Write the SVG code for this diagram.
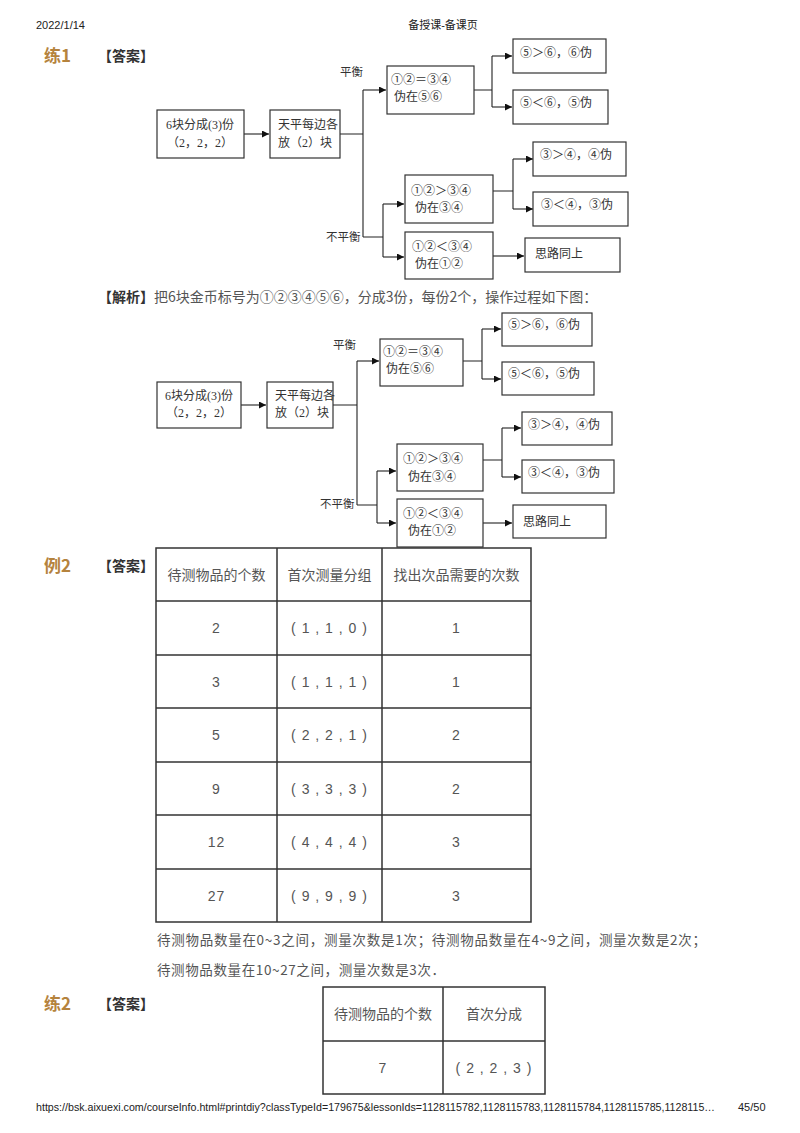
<svg xmlns="http://www.w3.org/2000/svg" width="800" height="1133" viewBox="0 0 800 1133">
<style>
.hdr{font-family:"Liberation Sans","Noto Sans CJK SC",sans-serif;font-size:11px;fill:#222}
.lab{font-family:"Noto Sans CJK SC",sans-serif;font-weight:bold;font-size:17px;fill:#b5833d}
.ans{font-family:"Noto Sans CJK SC",sans-serif;font-weight:bold;font-size:14px;fill:#333}
.body{font-family:"Noto Sans CJK SC",sans-serif;font-size:14px;fill:#555}
.box{fill:#fff;stroke:#333;stroke-width:1.2}
.dt{font-family:"Liberation Serif","Noto Sans CJK SC",serif;font-size:12px;fill:#333}
.lbl{font-family:"Liberation Serif","Noto Sans CJK SC",serif;font-size:11.5px;fill:#333}
.conn{fill:none;stroke:#222;stroke-width:1.1}
.arr{fill:none;stroke:#222;stroke-width:1.1;marker-end:url(#ah)}
.grid{fill:none;stroke:#333;stroke-width:1.5}
.td{font-family:"Noto Sans CJK SC",sans-serif;font-size:14px;fill:#555;text-anchor:middle}
.tn{font-family:"Liberation Sans",sans-serif;font-size:14px;fill:#555;text-anchor:middle;letter-spacing:1px}
</style>
<defs>
<marker id="ah" markerWidth="8" markerHeight="8" refX="7" refY="3.5" orient="auto" markerUnits="userSpaceOnUse"><path d="M0,0 L7,3.5 L0,7 z" fill="#111"/></marker>
</defs>
<rect width="800" height="1133" fill="#fff"/>

<g id="header">
<text class="hdr" x="36" y="29">2022/1/14</text>
<text class="hdr" x="443" y="29" text-anchor="middle">备授课-备课页</text>
</g>

<g id="labels">
<text class="lab" x="44" y="62">练1</text>
<text class="ans" x="98" y="61">【答案】</text>
<text class="lab" x="44" y="572">例2</text>
<text class="ans" x="98" y="571">【答案】</text>
<text class="lab" x="44" y="1010">练2</text>
<text class="ans" x="98" y="1009">【答案】</text>
</g>

<!-- Diagram 1 -->
<g id="d1-connectors">
<path class="arr" d="M244,134 H269"/>
<path class="conn" d="M340,134 H363 M363,90 V237 M363,237 H383 M383,204 V257"/>
<path class="arr" d="M363,90 H386"/>
<path class="arr" d="M383,204 H404"/>
<path class="arr" d="M383,257 H404"/>
<path class="conn" d="M474,90 H492 M492,56 V107"/>
<path class="arr" d="M492,56 H512"/>
<path class="arr" d="M492,107 H512"/>
<path class="conn" d="M493,191 H513 M513,159 V209"/>
<path class="arr" d="M513,159 H533"/>
<path class="arr" d="M513,209 H533"/>
<path class="arr" d="M493,256 H524"/>
<text class="lbl" x="340" y="76">平衡</text>
<text class="lbl" x="326" y="241">不平衡</text>
</g>
<g id="d1-A"><rect class="box" x="157" y="110" width="87" height="48"/><text class="dt" x="200" y="129" text-anchor="middle">6块分成(3)份</text><text class="dt" x="200" y="147" text-anchor="middle">（2，2，2）</text></g>
<g id="d1-B"><rect class="box" x="270" y="110" width="70" height="48"/><text class="dt" x="278" y="129">天平每边各</text><text class="dt" x="278" y="147">放（2）块</text></g>
<g id="d1-C"><rect class="box" x="387" y="66" width="87" height="48"/><text class="dt" x="391" y="84">①②＝③④</text><text class="dt" x="394" y="101">伪在⑤⑥</text></g>
<g id="d1-D1"><rect class="box" x="513" y="39" width="93" height="34"/><text class="dt" x="520" y="57">⑤＞⑥，⑥伪</text></g>
<g id="d1-D2"><rect class="box" x="513" y="90" width="95" height="34"/><text class="dt" x="520" y="107">⑤＜⑥，⑤伪</text></g>
<g id="d1-E1"><rect class="box" x="405" y="175" width="88" height="48"/><text class="dt" x="411" y="195">①②＞③④</text><text class="dt" x="415" y="212">伪在③④</text></g>
<g id="d1-E2"><rect class="box" x="405" y="232" width="88" height="47"/><text class="dt" x="412" y="251">①②＜③④</text><text class="dt" x="415" y="268">伪在①②</text></g>
<g id="d1-F1"><rect class="box" x="533" y="142" width="93" height="34"/><text class="dt" x="540" y="159">③＞④，④伪</text></g>
<g id="d1-F2"><rect class="box" x="533" y="192" width="95" height="34"/><text class="dt" x="541" y="209">③＜④，③伪</text></g>
<g id="d1-G"><rect class="box" x="525" y="238" width="95" height="34"/><text class="dt" x="535" y="258">思路同上</text></g>

<g id="analysis">
<text class="body" x="98" y="302"><tspan class="ans" style="font-size:14px">【解析】</tspan>把6块金币标号为①②③④⑤⑥，分成3份，每份2个，操作过程如下图：</text>
</g>

<!-- Diagram 2 -->
<g id="d2-connectors">
<path class="arr" d="M241,405 H266"/>
<path class="conn" d="M333,405 H357 M357,361 V505 M357,505 H377 M377,471 V523"/>
<path class="arr" d="M357,361 H379"/>
<path class="arr" d="M377,471 H396"/>
<path class="arr" d="M377,523 H396"/>
<path class="conn" d="M463,361 H482 M482,329 V379"/>
<path class="arr" d="M482,329 H501"/>
<path class="arr" d="M482,379 H501"/>
<path class="conn" d="M483,460 H502 M502,428 V477"/>
<path class="arr" d="M502,428 H521"/>
<path class="arr" d="M502,477 H521"/>
<path class="arr" d="M483,523 H512"/>
<text class="lbl" x="333" y="349">平衡</text>
<text class="lbl" x="320" y="508">不平衡</text>
</g>
<g id="d2-A"><rect class="box" x="157" y="382" width="84" height="46"/><text class="dt" x="199" y="400" text-anchor="middle">6块分成(3)份</text><text class="dt" x="199" y="417" text-anchor="middle">（2，2，2）</text></g>
<g id="d2-B"><rect class="box" x="267" y="382" width="66" height="46"/><text class="dt" x="275" y="400">天平每边各</text><text class="dt" x="275" y="417">放（2）块</text></g>
<g id="d2-C"><rect class="box" x="380" y="339" width="83" height="47"/><text class="dt" x="383" y="356">①②＝③④</text><text class="dt" x="386" y="373">伪在⑤⑥</text></g>
<g id="d2-D1"><rect class="box" x="502" y="313" width="90" height="33"/><text class="dt" x="508" y="329">⑤＞⑥，⑥伪</text></g>
<g id="d2-D2"><rect class="box" x="502" y="362" width="92" height="33"/><text class="dt" x="508" y="378">⑤＜⑥，⑤伪</text></g>
<g id="d2-E1"><rect class="box" x="397" y="444" width="86" height="47"/><text class="dt" x="403" y="463">①②＞③④</text><text class="dt" x="408" y="481">伪在③④</text></g>
<g id="d2-E2"><rect class="box" x="397" y="499" width="86" height="48"/><text class="dt" x="403" y="518">①②＜③④</text><text class="dt" x="408" y="535">伪在①②</text></g>
<g id="d2-F1"><rect class="box" x="522" y="412" width="90" height="33"/><text class="dt" x="528" y="429">③＞④，④伪</text></g>
<g id="d2-F2"><rect class="box" x="522" y="460" width="92" height="33"/><text class="dt" x="528" y="477">③＜④，③伪</text></g>
<g id="d2-G"><rect class="box" x="513" y="505" width="93" height="33"/><text class="dt" x="523" y="526">思路同上</text></g>

<!-- Table 1 -->
<g id="table1">
<path class="grid" d="M156,548 H531 V922 H156 Z M277,548 V922 M382,548 V922 M156,601 H531 M156,655 H531 M156,708 H531 M156,762 H531 M156,815 H531 M156,869 H531"/>
<text class="td" x="216.5" y="579.5">待测物品的个数</text>
<text class="td" x="329.5" y="579.5">首次测量分组</text>
<text class="td" x="456.5" y="579.5">找出次品需要的次数</text>
<text class="tn" x="216.5" y="633">2</text><text class="tn" x="329.5" y="633">( 1 , 1 , 0 )</text><text class="tn" x="456.5" y="633">1</text>
<text class="tn" x="216.5" y="686.5">3</text><text class="tn" x="329.5" y="686.5">( 1 , 1 , 1 )</text><text class="tn" x="456.5" y="686.5">1</text>
<text class="tn" x="216.5" y="740">5</text><text class="tn" x="329.5" y="740">( 2 , 2 , 1 )</text><text class="tn" x="456.5" y="740">2</text>
<text class="tn" x="216.5" y="793.5">9</text><text class="tn" x="329.5" y="793.5">( 3 , 3 , 3 )</text><text class="tn" x="456.5" y="793.5">2</text>
<text class="tn" x="216.5" y="847">12</text><text class="tn" x="329.5" y="847">( 4 , 4 , 4 )</text><text class="tn" x="456.5" y="847">3</text>
<text class="tn" x="216.5" y="900.5">27</text><text class="tn" x="329.5" y="900.5">( 9 , 9 , 9 )</text><text class="tn" x="456.5" y="900.5">3</text>
</g>

<g id="summary">
<text class="body" x="157" y="945" style="font-size:13.5px" textLength="549">待测物品数量在0~3之间，测量次数是1次；待测物品数量在4~9之间，测量次数是2次；</text>
<text class="body" x="157" y="975" style="font-size:13.5px" textLength="288">待测物品数量在10~27之间，测量次数是3次．</text>
</g>

<!-- Table 2 -->
<g id="table2">
<path class="grid" d="M323,987 H545 V1094 H323 Z M443,987 V1094 M323,1041 H545"/>
<text class="td" x="383" y="1019">待测物品的个数</text>
<text class="td" x="494" y="1019">首次分成</text>
<text class="tn" x="383" y="1073">7</text>
<text class="tn" x="494" y="1073">( 2 , 2 , 3 )</text>
</g>

<g id="footer">
<text class="hdr" x="36" y="1111" textLength="679" lengthAdjust="spacingAndGlyphs">https://bsk.aixuexi.com/courseInfo.html#printdiy?classTypeId=179675&amp;lessonIds=1128115782,1128115783,1128115784,1128115785,1128115…</text>
<text class="hdr" x="738" y="1111">45/50</text>
</g>
</svg>
